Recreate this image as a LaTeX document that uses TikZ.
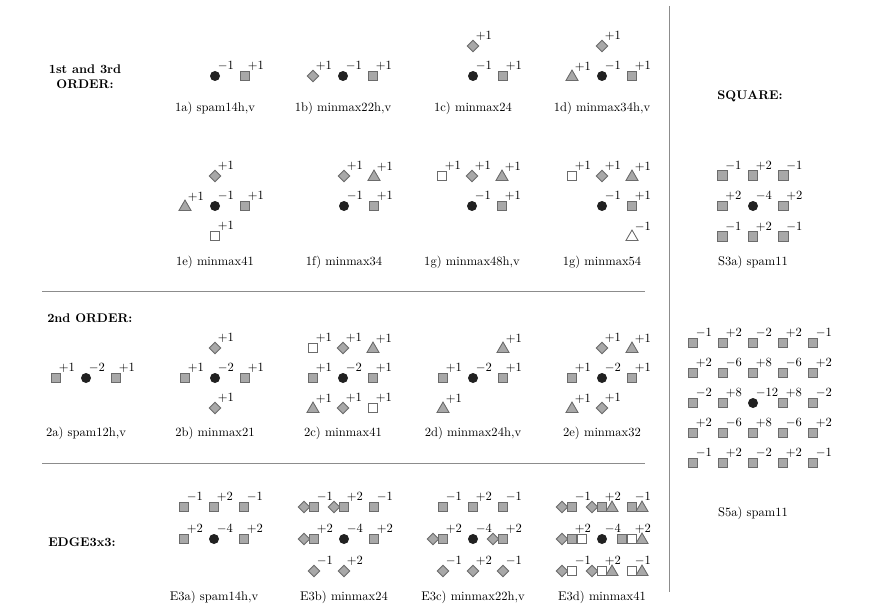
\documentclass[tikz,border=0pt]{standalone}
\usepackage{tikz}
\usetikzlibrary{positioning, shapes.geometric}

\begin{document}
\begin{tikzpicture}[x=0.028cm, y=-0.028cm,
  ctr/.style={circle, fill=black!87, minimum size=0.28cm, inner sep=0pt},
  gsq/.style={rectangle, draw=black!58, fill=black!34, line width=0.7pt,
              minimum size=0.27cm, inner sep=0pt},
  osq/.style={gsq, fill=white},
  gdia/.style={diamond, draw=black!58, fill=black!34, line width=0.7pt,
               minimum size=0.33cm, inner sep=0pt},
  gtri/.style={regular polygon, regular polygon sides=3, draw=black!58,
               fill=black!34, line width=0.7pt, minimum size=0.39cm,
               inner sep=0pt, yshift=-0.8pt},
  otri/.style={gtri, fill=white},
  num/.style={inner sep=0pt, above right=4pt and 2pt},
  capt/.style={inner sep=0pt},
  head/.style={font=\bfseries, inner sep=0pt},
  sep/.style={black!45, line width=0.6pt}]

  \useasboundingbox (0,0) rectangle (869,611);

  % ---------- separators ----------
  \draw[sep] (669,6) -- (669,592);
  \draw[sep] (42,291) -- (645,291);
  \draw[sep] (42,463) -- (645,463);

  % ---------- 1st and 3rd order ----------
  \node[head, align=center] (h1) at (85,77) {1st and 3rd\\ORDER:};

  \begin{scope}[shift={(215,76)}]
    \foreach \x/\y/\s/\v [count=\k] in {0/0/ctr/-1, 30/0/gsq/+1}{
      \node[\s] (p1a\k) at (\x,\y) {};
      \node[num] (n1a\k) at (p1a\k.center) {$\v$};
    }
    \node[capt] (c1a) at (0,32) {1a) spam14h,v};
  \end{scope}

  \begin{scope}[shift={(343,76)}]
    \foreach \x/\y/\s/\v [count=\k] in {-30/0/gdia/+1, 0/0/ctr/-1, 30/0/gsq/+1}{
      \node[\s] (p1b\k) at (\x,\y) {};
      \node[num] (n1b\k) at (p1b\k.center) {$\v$};
    }
    \node[capt] (c1b) at (0,32) {1b) minmax22h,v};
  \end{scope}

  \begin{scope}[shift={(473,76)}]
    \foreach \x/\y/\s/\v [count=\k] in {0/-30/gdia/+1, 0/0/ctr/-1, 30/0/gsq/+1}{
      \node[\s] (p1c\k) at (\x,\y) {};
      \node[num] (n1c\k) at (p1c\k.center) {$\v$};
    }
    \node[capt] (c1c) at (0,32) {1c) minmax24};
  \end{scope}

  \begin{scope}[shift={(602,76)}]
    \foreach \x/\y/\s/\v [count=\k] in {0/-30/gdia/+1, -30/0/gtri/+1, 0/0/ctr/-1,
                                        30/0/gsq/+1}{
      \node[\s] (p1d\k) at (\x,\y) {};
      \node[num] (n1d\k) at (p1d\k.center) {$\v$};
    }
    \node[capt] (c1d) at (0,32) {1d) minmax34h,v};
  \end{scope}

  \begin{scope}[shift={(215,206)}]
    \foreach \x/\y/\s/\v [count=\k] in {0/-30/gdia/+1, -30/0/gtri/+1, 0/0/ctr/-1,
                                        30/0/gsq/+1, 0/30/osq/+1}{
      \node[\s] (p1e\k) at (\x,\y) {};
      \node[num] (n1e\k) at (p1e\k.center) {$\v$};
    }
    \node[capt] (c1e) at (0,56) {1e) minmax41};
  \end{scope}

  \begin{scope}[shift={(344,206)}]
    \foreach \x/\y/\s/\v [count=\k] in {0/-30/gdia/+1, 30/-30/gtri/+1, 0/0/ctr/-1,
                                        30/0/gsq/+1}{
      \node[\s] (p1f\k) at (\x,\y) {};
      \node[num] (n1f\k) at (p1f\k.center) {$\v$};
    }
    \node[capt] (c1f) at (0,56) {1f) minmax34};
  \end{scope}

  \begin{scope}[shift={(472,206)}]
    \foreach \x/\y/\s/\v [count=\k] in {-30/-30/osq/+1, 0/-30/gdia/+1, 30/-30/gtri/+1,
                                        0/0/ctr/-1, 30/0/gsq/+1}{
      \node[\s] (p1g\k) at (\x,\y) {};
      \node[num] (n1g\k) at (p1g\k.center) {$\v$};
    }
    \node[capt] (c1g) at (0,56) {1g) minmax48h,v};
  \end{scope}

  \begin{scope}[shift={(602,206)}]
    \foreach \x/\y/\s/\v [count=\k] in {-30/-30/osq/+1, 0/-30/gdia/+1, 30/-30/gtri/+1,
                                        0/0/ctr/-1, 30/0/gsq/+1, 30/30/otri/-1}{
      \node[\s] (p1h\k) at (\x,\y) {};
      \node[num] (n1h\k) at (p1h\k.center) {$\v$};
    }
    \node[capt] (c1h) at (0,56) {1g) minmax54};
  \end{scope}

  % ---------- 2nd order ----------
  \node[head, anchor=west] (h2) at (47,318) {2nd ORDER:};

  \begin{scope}[shift={(86,378)}]
    \foreach \x/\y/\s/\v [count=\k] in {-30/0/gsq/+1, 0/0/ctr/-2, 30/0/gsq/+1}{
      \node[\s] (p2a\k) at (\x,\y) {};
      \node[num] (n2a\k) at (p2a\k.center) {$\v$};
    }
    \node[capt] (c2a) at (0,55) {2a) spam12h,v};
  \end{scope}

  \begin{scope}[shift={(215,378)}]
    \foreach \x/\y/\s/\v [count=\k] in {0/-30/gdia/+1, -30/0/gsq/+1, 0/0/ctr/-2,
                                        30/0/gsq/+1, 0/30/gdia/+1}{
      \node[\s] (p2b\k) at (\x,\y) {};
      \node[num] (n2b\k) at (p2b\k.center) {$\v$};
    }
    \node[capt] (c2b) at (0,55) {2b) minmax21};
  \end{scope}

  \begin{scope}[shift={(343,378)}]
    \foreach \x/\y/\s/\v [count=\k] in {-30/-30/osq/+1, 0/-30/gdia/+1, 30/-30/gtri/+1,
                                        -30/0/gsq/+1, 0/0/ctr/-2, 30/0/gsq/+1,
                                        -30/30/gtri/+1, 0/30/gdia/+1, 30/30/osq/+1}{
      \node[\s] (p2c\k) at (\x,\y) {};
      \node[num] (n2c\k) at (p2c\k.center) {$\v$};
    }
    \node[capt] (c2c) at (0,55) {2c) minmax41};
  \end{scope}

  \begin{scope}[shift={(473,378)}]
    \foreach \x/\y/\s/\v [count=\k] in {30/-30/gtri/+1, -30/0/gsq/+1, 0/0/ctr/-2,
                                        30/0/gsq/+1, -30/30/gtri/+1}{
      \node[\s] (p2d\k) at (\x,\y) {};
      \node[num] (n2d\k) at (p2d\k.center) {$\v$};
    }
    \node[capt] (c2d) at (0,55) {2d) minmax24h,v};
  \end{scope}

  \begin{scope}[shift={(602,378)}]
    \foreach \x/\y/\s/\v [count=\k] in {0/-30/gdia/+1, 30/-30/gtri/+1, -30/0/gsq/+1,
                                        0/0/ctr/-2, 30/0/gsq/+1, -30/30/gtri/+1,
                                        0/30/gdia/+1}{
      \node[\s] (p2e\k) at (\x,\y) {};
      \node[num] (n2e\k) at (p2e\k.center) {$\v$};
    }
    \node[capt] (c2e) at (0,55) {2e) minmax32};
  \end{scope}

  % ---------- edge 3x3 ----------
  \node[head, anchor=west] (h3) at (48,542) {EDGE3x3:};

  \begin{scope}[shift={(214,539)}]
    \foreach \x/\y/\s/\v [count=\k] in {-30/-32/gsq/-1, 0/-32/gsq/+2, 30/-32/gsq/-1,
                                        -30/0/gsq/+2, 0/0/ctr/-4, 30/0/gsq/+2}{
      \node[\s] (p3a\k) at (\x,\y) {};
      \node[num] (n3a\k) at (p3a\k.center) {$\v$};
    }
    \node[capt] (c3a) at (0,58) {E3a) spam14h,v};
  \end{scope}

  \begin{scope}[shift={(344,539)}]
    \foreach \x/\y/\s [count=\k] in {-40/-32/gdia, -10/-32/gdia, -40/0/gdia}
      \node[\s] (x3b\k) at (\x,\y) {};
    \foreach \x/\y/\s/\v [count=\k] in {-30/-32/gsq/-1, 0/-32/gsq/+2, 30/-32/gsq/-1,
                                        -30/0/gsq/+2, 0/0/ctr/-4, 30/0/gsq/+2,
                                        -30/32/gdia/-1, 0/32/gdia/+2}{
      \node[\s] (p3b\k) at (\x,\y) {};
      \node[num] (n3b\k) at (p3b\k.center) {$\v$};
    }
    \node[capt] (c3b) at (0,58) {E3b) minmax24};
  \end{scope}

  \begin{scope}[shift={(473,539)}]
    \foreach \x/\y/\s [count=\k] in {-40/0/gdia, 20/0/gdia}
      \node[\s] (x3c\k) at (\x,\y) {};
    \foreach \x/\y/\s/\v [count=\k] in {-30/-32/gsq/-1, 0/-32/gsq/+2, 30/-32/gsq/-1,
                                        -30/0/gsq/+2, 0/0/ctr/-4, 30/0/gsq/+2,
                                        -30/32/gdia/-1, 0/32/gdia/+2, 30/32/gdia/-1}{
      \node[\s] (p3c\k) at (\x,\y) {};
      \node[num] (n3c\k) at (p3c\k.center) {$\v$};
    }
    \node[capt] (c3c) at (0,58) {E3c) minmax22h,v};
  \end{scope}

  \begin{scope}[shift={(602,539)}]
    \foreach \x/\y/\s [count=\k] in {-40/-32/gdia, -10/-32/gdia, 10/-32/gtri, 40/-32/gtri,
                                     -40/0/gdia, -20/0/osq, 20/0/gsq, 40/0/gtri,
                                     -40/32/gdia, -10/32/gdia, 10/32/gtri, 40/32/gtri}
      \node[\s] (x3d\k) at (\x,\y) {};
    \foreach \x/\y/\s/\v [count=\k] in {-30/-32/gsq/-1, 0/-32/gsq/+2, 30/-32/gsq/-1,
                                        -30/0/gsq/+2, 0/0/ctr/-4, 30/0/osq/+2,
                                        -30/32/osq/-1, 0/32/osq/+2, 30/32/osq/-1}{
      \node[\s] (p3d\k) at (\x,\y) {};
      \node[num] (n3d\k) at (p3d\k.center) {$\v$};
    }
    \node[capt] (c3d) at (0,58) {E3d) minmax41};
  \end{scope}

  % ---------- square ----------
  \node[head] (h4) at (750,96) {SQUARE:};

  \begin{scope}[shift={(753,206)}]
    \foreach \row [count=\j] in {{-1,+2,-1},{+2,-4,+2},{-1,+2,-1}}{
      \foreach \v [count=\i] in \row {
        \ifnum\i\j=22 \def\s{ctr}\else\def\s{gsq}\fi
        \node[\s] (q3\i\j) at ({30.5*(\i-2)},{30.5*(\j-2)}) {};
        \node[num] (m3\i\j) at (q3\i\j.center) {$\v$};
      }
    }
    \node[capt] (c4a) at (0,56) {S3a) spam11};
  \end{scope}

  \begin{scope}[shift={(753,403)}]
    \foreach \row [count=\j] in {{-1,+2,-2,+2,-1},{+2,-6,+8,-6,+2},{-2,+8,-12,+8,-2},
                                 {+2,-6,+8,-6,+2},{-1,+2,-2,+2,-1}}{
      \foreach \v [count=\i] in \row {
        \ifnum\i\j=33 \def\s{ctr}\else\def\s{gsq}\fi
        \node[\s] (q5\i\j) at ({30*(\i-3)},{30*(\j-3)}) {};
        \node[num] (m5\i\j) at (q5\i\j.center) {$\v$};
      }
    }
    \node[capt] (c4b) at (0,110) {S5a) spam11};
  \end{scope}
\end{tikzpicture}
\end{document}
